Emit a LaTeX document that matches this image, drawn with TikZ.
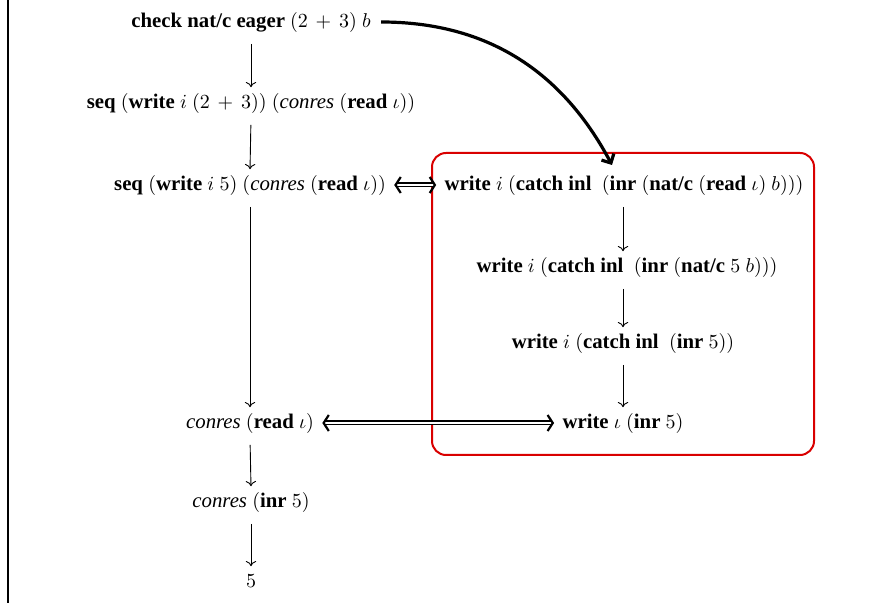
\documentclass[tikz,border=0pt]{standalone}
\usepackage{fontspec}
\setmainfont{Liberation Serif}
\usetikzlibrary{arrows.meta}
\newcommand{\kw}[1]{\textbf{#1}}
\newcommand{\vr}[1]{\textit{#1}}
\newcommand{\wplus}{\mathbin{\,+\,}}
\begin{document}
\begin{tikzpicture}[x=0.5pt,y=-0.5pt,
  term/.style={inner sep=2pt, text height=7.8pt, text depth=2.6pt,
               font=\fontsize{10.4pt}{12.5pt}\selectfont},
  reduce/.style={-{Computer Modern Rightarrow[length=2.6pt,width=5.2pt]}, line width=0.45pt,
                 shorten <=3.5pt, shorten >=0.5pt},
  equiv/.style={{Straight Barb[length=2.6pt,width=8pt,line width=1.1pt]}-{Straight Barb[length=2.6pt,width=8pt,line width=1.1pt]},
                double, double distance=1.4pt, line width=0.55pt,
                shorten <=2pt, shorten >=2pt},
  jump/.style={-{Straight Barb[length=3.5pt,width=7pt]}, line width=1.6pt},
  frame/.style={draw=red!85!black, line width=1pt, rounded corners=7pt}]

  % page extent
  \useasboundingbox (0,0) rectangle (878,603);
  \draw[line width=0.55pt] (8,0) -- (8,603);

  % left column
  \node[term] (n1) at (251,22)  {$\kw{check nat/c eager}\ (2\wplus 3)\ b$};
  \node[term] (n2) at (251,103) {$\kw{seq}\ (\kw{write}\ i\ (2\wplus 3))\ (\vr{conres}\ (\kw{read}\ \iota))$};
  \node[term] (n3) at (250,185) {$\kw{seq}\ (\kw{write}\ i\ 5)\ (\vr{conres}\ (\kw{read}\ \iota))$};
  \node[term] (n8) at (250,423) {$\vr{conres}\ (\kw{read}\ \iota)$};
  \node[term] (n9) at (251,502) {$\vr{conres}\ (\kw{inr}\ 5)$};
  \node[term] (n10) at (251,582) {$5$};

  % right column
  \node[term] (n4) at (624,185) {$\kw{write}\ i\ (\kw{catch inl}\ \ (\kw{inr}\ (\kw{nat/c}\ (\kw{read}\ \iota)\ b)))$};
  \node[term] (n5) at (627,267) {$\kw{write}\ i\ (\kw{catch inl}\ \ (\kw{inr}\ (\kw{nat/c}\ 5\ b)))$};
  \node[term] (n6) at (623,343) {$\kw{write}\ i\ (\kw{catch inl}\ \ (\kw{inr}\ 5))$};
  \node[term] (n7) at (623,423) {$\kw{write}\ \iota\ (\kw{inr}\ 5)$};

  % highlighted region
  \coordinate (boxA) at (432,153);
  \coordinate (boxB) at (814,455);
  \draw[frame] (boxA) rectangle (boxB);

  % reduction steps
  \draw[reduce] (n1.south) -- (n2.north);
  \draw[reduce] (n2.south) -- (n3.north);
  \draw[reduce] (n3.south) -- (n8.north);
  \draw[reduce] (n8.south) -- (n9.north);
  \draw[reduce] (n9.south) -- (n10.north);
  \draw[reduce] (n4.south -| n6) -- (n5.north -| n6);
  \draw[reduce] (n5.south -| n6) -- (n6.north);
  \draw[reduce] (n6.south) -- (n7.north);

  % correspondences
  \draw[equiv] (n3.east) -- (n4.west);
  \draw[equiv] (n8.east) -- (n7.west);

  % jump into the boxed evaluation
  \coordinate (land) at (612,165);
  \draw[jump] ([xshift=3pt]n1.east) to[out=0,in=118] (land);
\end{tikzpicture}
\end{document}
